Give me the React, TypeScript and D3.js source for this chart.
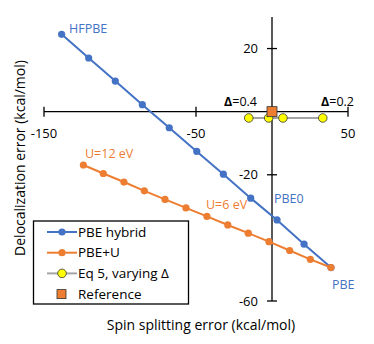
import React from 'react';
import * as d3 from 'd3';

// PBE hybrid series (spin splitting error, delocalization error)
const hybridX = [-138.4, -120.6, -103.1, -85.3, -67.6, -49.5, -32.0, -14.0, 3.3, 21.1, 38.8];
const hybridY = [24.5, 17.0, 9.7, 2.2, -5.1, -12.6, -19.8, -27.4, -34.3, -42.0, -49.4];

// PBE+U series
const plusUX = [-124.1, -111.0, -97.4, -84.0, -70.4, -56.6, -42.8, -29.1, -15.6, -2.0, 11.6, 25.2, 38.8];
const plusUY = [-16.9, -19.6, -22.3, -25.1, -27.8, -30.5, -33.2, -35.9, -38.5, -41.2, -44.0, -46.8, -49.4];

// Eq 5, varying delta
const eqX = [-15.3, -2.2, 7.2, 33.4];
const eqY = [-2.0, -2.0, -2.0, -2.0];

const refPoint = { x: 0, y: 0 };

const xTicks = [-150, -50, 50];
const yTicks = [-60, -20, 20];

const BLUE = '#4472C4';
const ORANGE = '#ED7D31';
const GRAY = '#A5A5A5';
const FONT = '"Open Sans", Lato, sans-serif';

const App = () => {
  const x = d3.scaleLinear().domain([-150, 50]).range([44, 348]);
  const y = d3.scaleLinear().domain([-60, 30]).range([301, 17]);

  const line = d3.line<[number, number]>()
    .x(d => x(d[0]))
    .y(d => y(d[1]));

  const hybrid = hybridX.map((v, i) => [v, hybridY[i]] as [number, number]);
  const plusU = plusUX.map((v, i) => [v, plusUY[i]] as [number, number]);
  const eq = eqX.map((v, i) => [v, eqY[i]] as [number, number]);

  const x0 = x(0);
  const y0 = y(0);

  const legendItems = [
    { label: 'PBE hybrid', kind: 'blue' },
    { label: 'PBE+U', kind: 'orange' },
    { label: 'Eq 5, varying Δ', kind: 'eq' },
    { label: 'Reference', kind: 'ref' },
  ];

  return (
    <svg width={374} height={344} style={{ position: 'absolute', left: 0, top: 0, background: '#fff' }}
      fontFamily={FONT}>
      {/* axes */}
      <line x1={x(-150)} x2={x(50)} y1={y0} y2={y0} stroke="#000" strokeWidth={1.3} />
      <line x1={x0} x2={x0} y1={y(30)} y2={y(-60)} stroke="#000" strokeWidth={1.3} />
      {xTicks.map(t => (
        <g key={'xt' + t}>
          <line x1={x(t)} x2={x(t)} y1={y0 - 5} y2={y0 + 5} stroke="#000" strokeWidth={1.3} />
          <text x={x(t)} y={y0 + 26} textAnchor="middle" fontSize={13} fill="#000">{t}</text>
        </g>
      ))}
      {yTicks.map(t => (
        <g key={'yt' + t}>
          <line x1={x0 - 5} x2={x0 + 5} y1={y(t)} y2={y(t)} stroke="#000" strokeWidth={1.3} />
          <text x={x0 - 14} y={y(t) + 4.5} textAnchor="end" fontSize={13} fill="#000">{t}</text>
        </g>
      ))}

      {/* series */}
      <path d={line(hybrid) || ''} fill="none" stroke={BLUE} strokeWidth={2} />
      {hybrid.map((d, i) => (
        <circle key={'h' + i} cx={x(d[0])} cy={y(d[1])} r={3.6} fill={BLUE} />
      ))}
      <path d={line(plusU) || ''} fill="none" stroke={ORANGE} strokeWidth={2} />
      {plusU.map((d, i) => (
        <circle key={'u' + i} cx={x(d[0])} cy={y(d[1])} r={3.6} fill={ORANGE} />
      ))}
      <path d={line(eq) || ''} fill="none" stroke={GRAY} strokeWidth={2} />
      {eq.map((d, i) => (
        <circle key={'e' + i} cx={x(d[0])} cy={y(d[1])} r={4.3} fill="#FFFF00" stroke="#333" strokeWidth={0.8} />
      ))}
      <rect x={x(refPoint.x) - 5} y={y(refPoint.y) - 5} width={10} height={10} fill={ORANGE} stroke="#333" strokeWidth={0.8} />

      {/* annotations */}
      <text x={69} y={33} fontSize={12.5} fill={BLUE}>HFPBE</text>
      <text x={85} y={158} fontSize={12.5} fill={ORANGE}>U=12 eV</text>
      <text x={206} y={209} fontSize={12.5} fill={ORANGE}>U=6 eV</text>
      <text x={274} y={203} fontSize={12.5} fill={BLUE}>PBE0</text>
      <text x={332} y={289} fontSize={12.5} fill={BLUE}>PBE</text>
      <text x={257} y={106} textAnchor="end" fontSize={12.5}>
        <tspan fontWeight="bold">Δ</tspan>=0.4
      </text>
      <text x={321} y={106} fontSize={12.5}>
        <tspan fontWeight="bold">Δ</tspan>=0.2
      </text>

      {/* axis titles */}
      <text x={201} y={330} textAnchor="middle" fontSize={14}>Spin splitting error (kcal/mol)</text>
      <text transform="translate(25,158) rotate(-90)" textAnchor="middle" fontSize={14}>
        Delocalization error (kcal/mol)
      </text>

      {/* legend */}
      <rect x={33.5} y={221} width={155} height={83} fill="#fff" stroke="#000" strokeWidth={1.3} />
      {legendItems.map((it, i) => {
        const cy = 232 + i * 20.7;
        return (
          <g key={it.label}>
            {it.kind === 'blue' && (
              <g>
                <line x1={47} x2={77} y1={cy} y2={cy} stroke={BLUE} strokeWidth={2} />
                <circle cx={62} cy={cy} r={3.6} fill={BLUE} />
              </g>
            )}
            {it.kind === 'orange' && (
              <g>
                <line x1={47} x2={77} y1={cy} y2={cy} stroke={ORANGE} strokeWidth={2} />
                <circle cx={62} cy={cy} r={3.6} fill={ORANGE} />
              </g>
            )}
            {it.kind === 'eq' && (
              <g>
                <line x1={47} x2={77} y1={cy} y2={cy} stroke={GRAY} strokeWidth={2} />
                <circle cx={62} cy={cy} r={4.3} fill="#FFFF00" stroke="#333" strokeWidth={0.8} />
              </g>
            )}
            {it.kind === 'ref' && (
              <rect x={57} y={cy - 4.5} width={9} height={9} fill={ORANGE} stroke="#333" strokeWidth={0.8} />
            )}
            <text x={78} y={cy + 4.5} fontSize={13.5}>{it.label}</text>
          </g>
        );
      })}
    </svg>
  );
};

export default App;
